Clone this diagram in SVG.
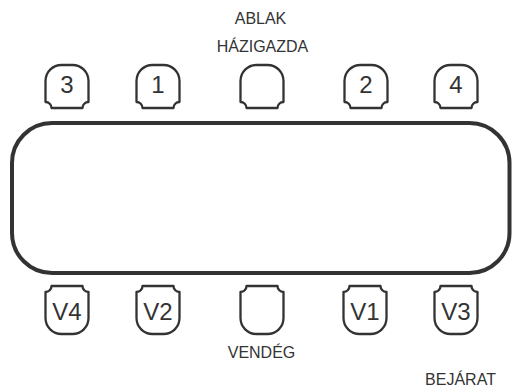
<svg xmlns="http://www.w3.org/2000/svg" xmlns:xlink="http://www.w3.org/1999/xlink" width="513" height="388" viewBox="0 0 513 388">
  <style>
    .table { fill: #ffffff; stroke: #333333; stroke-width: 4; }
    .chair { fill: #ffffff; stroke: #333333; stroke-width: 2.3; stroke-linejoin: round; }
    .label { font-family: "Liberation Sans", Arial, sans-serif; font-size: 16px; fill: #333333; text-anchor: middle; }
    .num { font-family: "Liberation Sans", Arial, sans-serif; font-size: 24px; fill: #333333; text-anchor: middle; }
  </style>
  <defs>
    <path id="chairTop" d="M-21.5,37 V16 A16,16 0 0 1 -5.5,0 H5.5 A16,16 0 0 1 21.5,16 V37 A6,6 0 0 0 15.5,43 H-15.5 A6,6 0 0 0 -21.5,37 Z"/>
    <path id="chairBottom" d="M-21.5,6 A6,6 0 0 0 -15.5,0 H15.5 A6,6 0 0 0 21.5,6 V32 A16,16 0 0 1 5.5,48 H-5.5 A16,16 0 0 1 -21.5,32 Z"/>
  </defs>

  <g id="labels">
    <text class="label" x="260.5" y="24">ABLAK</text>
    <text class="label" x="262.5" y="52">HÁZIGAZDA</text>
    <text class="label" x="261.5" y="357.5">VENDÉG</text>
    <text class="label" x="460.5" y="384.5">BEJÁRAT</text>
  </g>

  <g id="table">
    <rect class="table" x="12" y="123" width="497.5" height="150" rx="40" ry="40"/>
  </g>

  <g id="chair-3" transform="translate(67,65)">
    <use class="chair" href="#chairTop" xlink:href="#chairTop"/>
    <text class="num" x="0" y="28">3</text>
  </g>
  <g id="chair-1" transform="translate(158,65)">
    <use class="chair" href="#chairTop" xlink:href="#chairTop"/>
    <text class="num" x="0" y="28">1</text>
  </g>
  <g id="chair-host" transform="translate(262,65)">
    <use class="chair" href="#chairTop" xlink:href="#chairTop"/>
  </g>
  <g id="chair-2" transform="translate(366,65)">
    <use class="chair" href="#chairTop" xlink:href="#chairTop"/>
    <text class="num" x="0" y="28">2</text>
  </g>
  <g id="chair-4" transform="translate(456,65)">
    <use class="chair" href="#chairTop" xlink:href="#chairTop"/>
    <text class="num" x="0" y="28">4</text>
  </g>

  <g id="chair-v4" transform="translate(67,286)">
    <use class="chair" href="#chairBottom" xlink:href="#chairBottom"/>
    <text class="num" x="0" y="33.5">V4</text>
  </g>
  <g id="chair-v2" transform="translate(158,286)">
    <use class="chair" href="#chairBottom" xlink:href="#chairBottom"/>
    <text class="num" x="0" y="33.5">V2</text>
  </g>
  <g id="chair-guest" transform="translate(262,286)">
    <use class="chair" href="#chairBottom" xlink:href="#chairBottom"/>
  </g>
  <g id="chair-v1" transform="translate(365,286)">
    <use class="chair" href="#chairBottom" xlink:href="#chairBottom"/>
    <text class="num" x="0" y="33.5">V1</text>
  </g>
  <g id="chair-v3" transform="translate(456,286)">
    <use class="chair" href="#chairBottom" xlink:href="#chairBottom"/>
    <text class="num" x="0" y="33.5">V3</text>
  </g>

  <g id="connectors"></g>
</svg>
